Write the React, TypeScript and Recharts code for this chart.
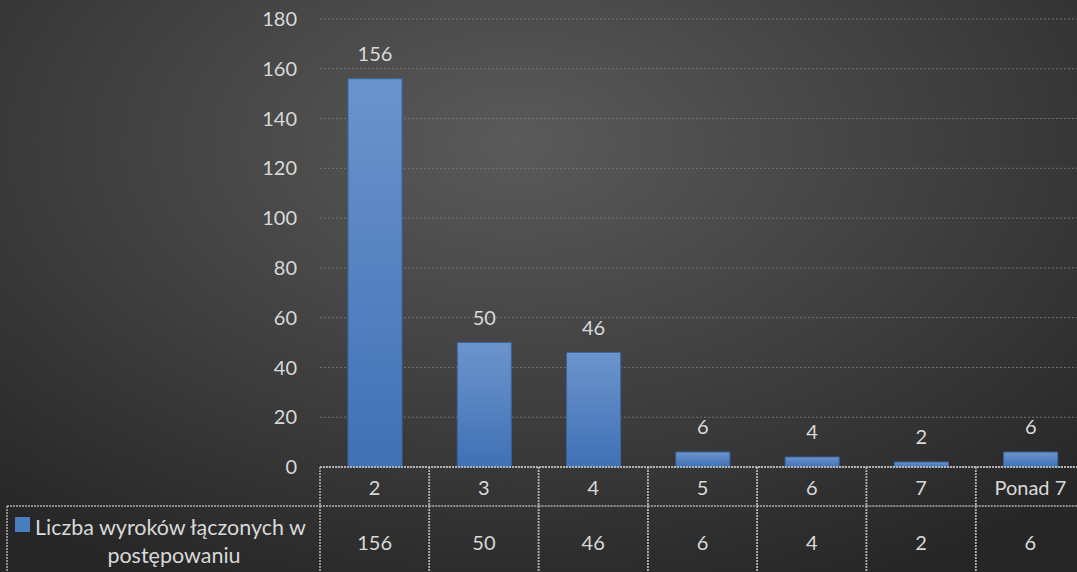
import { BarChart, Bar, XAxis, YAxis, CartesianGrid, LabelList } from 'recharts'

const categories = ['2', '3', '4', '5', '6', '7', 'Ponad 7']
const counts = [156, 50, 46, 6, 4, 2, 6]
const yTicks = [0, 20, 40, 60, 80, 100, 120, 140, 160, 180]
const seriesName = ['Liczba wyroków łączonych w', 'postępowaniu']

const data = categories.map((c, i) => ({ name: c, value: counts[i] }))

const FONT = 'Lato, "Open Sans", sans-serif'
const TEXT = '#d9d9d9'
const LINE = '#b0b0b0'
const CHART_W = 1085
const PLOT_LEFT = 320
const CELL_W = (CHART_W - PLOT_LEFT) / categories.length
const ROW_TOP = 467
const ROW_MID = 506
const ROW_BOTTOM = 572

const dotted = { stroke: LINE, strokeWidth: 1.5, strokeDasharray: '2 1' }

function TableTick(props: any) {
  const { x, payload, index } = props
  const left = x - CELL_W / 2
  return (
    <g>
      {index === 0 && (
        <g>
          <line x1={7} y1={ROW_MID} x2={left} y2={ROW_MID} {...dotted} />
          <line x1={7} y1={ROW_MID} x2={7} y2={ROW_BOTTOM} {...dotted} />
          <rect x={15} y={517} width={15} height={15} fill="#4a7cc0" />
          <text x={35} y={535} textAnchor="start" fill={TEXT} fontSize={21.5} fontFamily={FONT}>
            {seriesName[0]}
          </text>
          <text x={174} y={563} textAnchor="middle" fill={TEXT} fontSize={21.5} fontFamily={FONT}>
            {seriesName[1]}
          </text>
        </g>
      )}
      <line x1={left} y1={ROW_TOP} x2={left} y2={ROW_BOTTOM} {...dotted} />
      <line x1={left + CELL_W} y1={ROW_TOP} x2={left + CELL_W} y2={ROW_BOTTOM} {...dotted} />
      <line x1={left} y1={ROW_MID} x2={left + CELL_W} y2={ROW_MID} {...dotted} />
      <text x={x} y={495} textAnchor="middle" fill={TEXT} fontSize={20} fontFamily={FONT}>
        {payload.value}
      </text>
      <text x={x} y={550} textAnchor="middle" fill={TEXT} fontSize={20} fontFamily={FONT}>
        {counts[index]}
      </text>
    </g>
  )
}

export default function App() {
  return (
    <div
      style={{
        position: 'absolute',
        left: 0,
        top: 0,
        width: 1077,
        height: 572,
        overflow: 'hidden',
        background:
          'radial-gradient(ellipse 75% 85% at 48% 25%, #5a5a5a 0%, #3e3e3e 55%, #262626 100%)',
      }}
    >
      <BarChart
        width={CHART_W}
        height={572}
        data={data}
        margin={{ top: 19, right: 0, bottom: 0, left: 0 }}
      >
        <defs>
          <linearGradient id="barFill" x1="0" y1="0" x2="0" y2="1">
            <stop offset="0%" stopColor="#6c94cc" />
            <stop offset="100%" stopColor="#3f71b6" />
          </linearGradient>
        </defs>
        <CartesianGrid vertical={false} stroke="#737373" strokeDasharray="2 2" />
        <YAxis
          domain={[0, 180]}
          ticks={yTicks}
          width={PLOT_LEFT}
          axisLine={false}
          tickLine={false}
          tickMargin={17}
          tick={{ fontSize: 20, fill: TEXT, fontFamily: FONT }}
        />
        <XAxis
          dataKey="name"
          height={105}
          interval={0}
          tickLine={false}
          axisLine={{ stroke: LINE, strokeWidth: 2, strokeDasharray: '2 1' }}
          tick={<TableTick />}
        />
        <Bar
          dataKey="value"
          fill="url(#barFill)"
          stroke="#3a66a3"
          strokeWidth={1}
          barSize={54}
          isAnimationActive={false}
        >
          <LabelList
            dataKey="value"
            position="top"
            offset={18}
            fill={TEXT}
            fontSize={20}
            fontFamily={FONT}
          />
        </Bar>
      </BarChart>
    </div>
  )
}
